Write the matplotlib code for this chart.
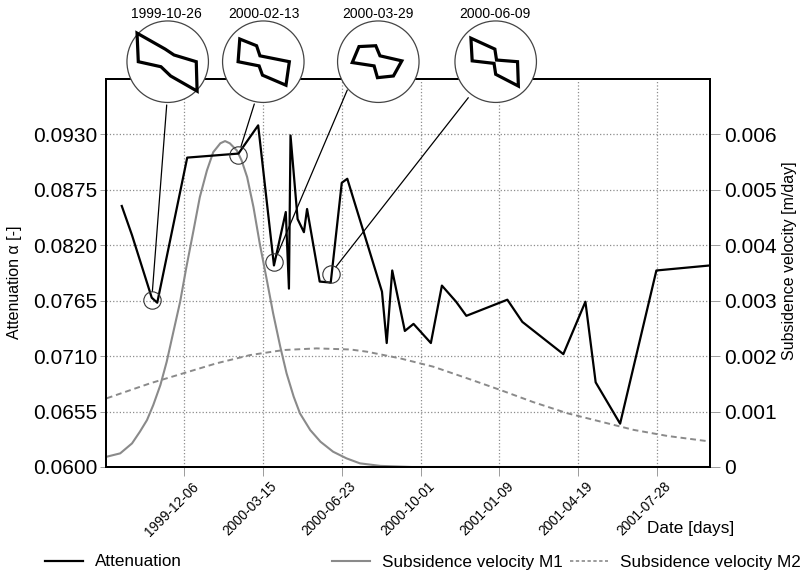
import matplotlib
matplotlib.use('Agg')
import matplotlib.pyplot as plt
import matplotlib.dates as mdates
import matplotlib.transforms as mtransforms
from matplotlib.patches import Circle, Polygon
from matplotlib.lines import Line2D
import pandas as pd

plt.rcParams['font.family'] = ['Liberation Sans', 'DejaVu Sans']

# ---------------- data ----------------
att_dates = ['1999-09-18', '1999-10-01', '1999-10-26', '1999-11-02', '1999-12-10',
             '2000-02-13', '2000-03-09', '2000-03-29', '2000-04-13', '2000-04-17',
             '2000-04-19', '2000-04-28', '2000-05-06', '2000-05-10', '2000-05-26',
             '2000-06-09', '2000-06-23', '2000-06-30', '2000-08-13', '2000-08-19',
             '2000-08-26', '2000-09-11', '2000-09-22', '2000-10-14', '2000-10-28',
             '2000-11-15', '2000-11-28', '2001-01-19', '2001-02-07', '2001-03-31',
             '2001-04-28', '2001-05-11', '2001-06-11', '2001-07-27', '2001-10-03']
att_values = [0.0859, 0.0830, 0.0768, 0.0763, 0.0907,
              0.0911, 0.0939, 0.0800, 0.0853, 0.0777,
              0.0929, 0.0846, 0.0833, 0.0856, 0.0784,
              0.0783, 0.0882, 0.0886, 0.0774, 0.0723,
              0.0795, 0.0735, 0.0742, 0.0723, 0.0780,
              0.0764, 0.0750, 0.0766, 0.0744, 0.0712,
              0.0764, 0.0684, 0.0643, 0.0795, 0.0800]

m1_dates = ['1999-08-30', '1999-09-16', '1999-10-01', '1999-10-11', '1999-10-20',
            '1999-10-28', '1999-11-06', '1999-11-14', '1999-11-22', '1999-12-01',
            '1999-12-09', '1999-12-18', '1999-12-26', '2000-01-04', '2000-01-12',
            '2000-01-21', '2000-01-27', '2000-02-02', '2000-02-11', '2000-02-17',
            '2000-02-24', '2000-03-03', '2000-03-11', '2000-03-20', '2000-03-28',
            '2000-04-06', '2000-04-14', '2000-04-23', '2000-05-01', '2000-05-14',
            '2000-05-27', '2000-06-12', '2000-06-29', '2000-07-16', '2000-08-11',
            '2000-09-20', '2001-10-03']
m1_values = [0.000186, 0.000246, 0.000426, 0.000637, 0.000847,
             0.00112, 0.00148, 0.00190, 0.00241, 0.00298,
             0.00361, 0.00427, 0.00487, 0.00535, 0.00568,
             0.00584, 0.00588, 0.00584, 0.00571, 0.00553,
             0.00523, 0.00469, 0.00403, 0.00337, 0.00277,
             0.00217, 0.00169, 0.00127, 0.000967, 0.000667,
             0.000456, 0.000276, 0.000156, 0.000066, 0.00002,
             0.0, 0.0]

m2_dates = ['1999-08-30', '1999-10-24', '1999-12-05', '2000-01-16', '2000-02-28',
            '2000-04-10', '2000-05-22', '2000-07-04', '2000-07-25', '2000-09-05',
            '2000-10-17', '2000-11-29', '2001-01-10', '2001-02-21', '2001-04-05',
            '2001-05-17', '2001-06-28', '2001-08-10', '2001-10-03']
m2_values = [0.00124, 0.00151, 0.00169, 0.00187, 0.00202,
             0.00211, 0.00214, 0.00212, 0.00208, 0.00196,
             0.00181, 0.00160, 0.00139, 0.00117, 0.00097,
             0.00082, 0.00067, 0.00056, 0.00046]

x_tick_dates = ['1999-12-06', '2000-03-15', '2000-06-23', '2000-10-01',
                '2001-01-09', '2001-04-19', '2001-07-28']
left_ticks = [0.0600, 0.0655, 0.0710, 0.0765, 0.0820, 0.0875, 0.0930]
right_ticks = [0, 0.001, 0.002, 0.003, 0.004, 0.005, 0.006]
right_tick_labels = ['0', '0.001', '0.002', '0.003', '0.004', '0.005', '0.006']

inset_dates = ['1999-10-26', '2000-02-13', '2000-03-29', '2000-06-09']
inset_values = [0.0766, 0.0910, 0.0803, 0.0792]

# contour shapes drawn inside the circles (unit circle coordinates)
inset_shapes = [
    [(-0.73, 0.68), (-0.06, 0.30), (0.15, 0.16), (0.68, 0.0), (0.70, -0.70),
     (0.07, -0.34), (-0.16, -0.12), (-0.70, 0.0)],
    [(-0.56, 0.54), (-0.16, 0.38), (-0.08, 0.14), (0.62, 0.0), (0.54, -0.56),
     (-0.02, -0.32), (-0.10, -0.10), (-0.60, 0.0)],
    [(-0.46, 0.36), (-0.06, 0.38), (0.04, 0.14), (0.56, 0.02), (0.36, -0.34),
     (-0.02, -0.38), (-0.10, -0.10), (-0.62, -0.02)],
    [(-0.59, 0.56), (-0.02, 0.30), (0.02, 0.04), (0.52, 0.0), (0.54, -0.58),
     (0.0, -0.30), (-0.04, -0.04), (-0.56, 0.02)],
]

# ---------------- figure ----------------
W, H = 805, 572
fig = plt.figure(figsize=(W / 100, H / 100), dpi=100)
L, R, T, B = 106, 710, 79, 467
ax = fig.add_axes([L / W, 1 - B / H, (R - L) / W, (B - T) / H])
ax2 = ax.twinx()
ax.set_zorder(ax2.get_zorder() + 1)
ax.patch.set_visible(False)

def dnum(lst):
    return mdates.date2num(pd.to_datetime(lst))

grid_col = '#8c8c8c'

ax.plot(dnum(att_dates), att_values, color='black', lw=1.6, zorder=3)
ax2.plot(dnum(m1_dates), m1_values, color='#8a8a8a', lw=1.5)
ax2.plot(dnum(m2_dates), m2_values, color='#8a8a8a', lw=1.4, ls=(0, (3, 2)))

ax.set_xlim(dnum(['1999-08-29'])[0], dnum(['2001-10-03'])[0])
ax.set_ylim(0.0600, 0.0985)
ax2.set_ylim(0, 0.007)

ax.set_yticks(left_ticks)
ax.set_yticklabels(['%.4f' % v for v in left_ticks])
ax2.set_yticks(right_ticks)
ax2.set_yticklabels(right_tick_labels)
ax.set_xticks(dnum(x_tick_dates))
ax.set_xticklabels(x_tick_dates)

ax.grid(True, color=grid_col, ls=':', lw=0.9)
ax.tick_params(axis='y', length=4.5, width=0.6, color=grid_col, pad=1.5, labelsize=15)
ax.tick_params(axis='x', length=6.5, width=0.6, color=grid_col, pad=2.5, labelsize=9.8)
ax2.tick_params(axis='y', length=7, width=0.6, color=grid_col, pad=3.5, labelsize=15)

offset = mtransforms.ScaledTranslation(7 / 100, 0, fig.dpi_scale_trans)
for lab in ax.get_xticklabels():
    lab.set_rotation(45)
    lab.set_ha('right')
    lab.set_va('top')
    lab.set_rotation_mode('anchor')
    lab.set_transform(lab.get_transform() + offset)

for a in (ax, ax2):
    for s in a.spines.values():
        s.set_linewidth(1.4)
        s.set_color('black')

fig.text(15 / W, 1 - 282 / H, 'Attenuation α [-]', rotation=90,
         ha='center', va='center', fontsize=11.5)
fig.text(789 / W, 1 - 261 / H, 'Subsidence velocity [m/day]', rotation=90,
         ha='center', va='center', fontsize=11.5)
fig.text(691 / W, 1 - 528 / H, 'Date [days]', ha='center', va='center', fontsize=12.3)

# small circles on the attenuation line
ax.plot(dnum(inset_dates), inset_values, 'o', ms=12.5, mfc='none',
        mec='#333333', mew=0.8, zorder=4)

# big circles with contour shapes
centers = [(167.7, 61.7), (263.3, 61.7), (378.3, 61.7), (495.7, 61.7)]
label_x = [166.7, 264.3, 378.3, 495.0]
leader_ends = [(166.7, 105), (254.3, 104), (347.3, 90), (468.3, 97.7)]
rad = 42

for i in range(4):
    ex, ey = leader_ends[i]
    ax.annotate('', xy=(dnum([inset_dates[i]])[0], inset_values[i]), xycoords='data',
                xytext=(ex, H - ey), textcoords='figure pixels',
                arrowprops=dict(arrowstyle='-', color='black', lw=0.9,
                                shrinkA=0, shrinkB=6))
    cx, cy = centers[i]
    iax = fig.add_axes([(cx - rad) / W, 1 - (cy + rad) / H, 2 * rad / W, 2 * rad / H])
    iax.set_zorder(10)
    iax.set_xlim(-1, 1)
    iax.set_ylim(-1, 1)
    iax.axis('off')
    iax.add_patch(Circle((0, 0), 0.97, facecolor='white', edgecolor='#444444', lw=0.9))
    iax.add_patch(Polygon(inset_shapes[i], closed=True, fill=False,
                          edgecolor='black', lw=2.3, joinstyle='miter'))
    fig.text(label_x[i] / W, 1 - 13.5 / H, inset_dates[i], ha='center',
             va='center', fontsize=10)

# legend (three entries at fixed positions)
leg_specs = [
    (Line2D([], [], color='black', lw=1.6), 'Attenuation', 45),
    (Line2D([], [], color='#8a8a8a', lw=1.5), 'Subsidence velocity M1', 332),
    (Line2D([], [], color='#8a8a8a', lw=1.2, ls=(0, (2, 1.5))), 'Subsidence velocity M2', 570),
]
for h, txt, xpx in leg_specs:
    fig.legend([h], [txt], loc='center left', bbox_to_anchor=(xpx / W, 1 - 562 / H),
               frameon=False, fontsize=12.3, handlelength=2.22, handletextpad=0.7,
               borderpad=0, borderaxespad=0)

fig.savefig('out.png', dpi=100)
